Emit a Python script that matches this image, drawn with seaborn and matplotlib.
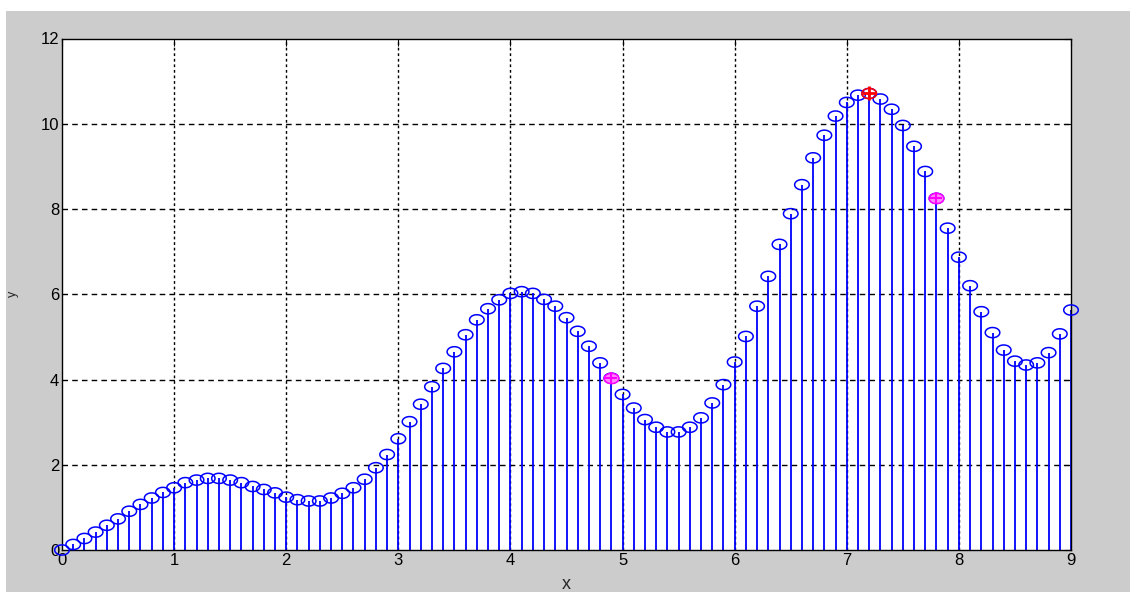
import numpy as np
import seaborn as sns
from matplotlib import pyplot as plt
from matplotlib.path import Path
from matplotlib.patches import Rectangle

# sample points x = 0:0.1:9
x_vals = [round(0.1 * i, 1) for i in range(91)]
y_vals = [
    0.00, 0.13, 0.27, 0.42, 0.58, 0.73, 0.91, 1.07, 1.22, 1.35,
    1.46, 1.58, 1.64, 1.68, 1.68, 1.64, 1.58, 1.49, 1.42, 1.34,
    1.24, 1.18, 1.15, 1.15, 1.22, 1.33, 1.46, 1.66, 1.93, 2.24,
    2.61, 3.01, 3.42, 3.83, 4.26, 4.65, 5.05, 5.40, 5.66, 5.87,
    6.02, 6.06, 6.02, 5.88, 5.72, 5.45, 5.13, 4.78, 4.39, 4.03,
    3.65, 3.33, 3.06, 2.88, 2.77, 2.77, 2.88, 3.10, 3.45, 3.88,
    4.41, 5.01, 5.72, 6.42, 7.17, 7.89, 8.57, 9.20, 9.73, 10.18,
    10.50, 10.67, 10.71, 10.58, 10.34, 9.96, 9.47, 8.88, 8.25, 7.55,
    6.87, 6.20, 5.59, 5.10, 4.69, 4.43, 4.34, 4.39, 4.63, 5.07,
    5.63,
]
# highlighted points
magenta_x = [4.9, 7.8]
magenta_y = [4.03, 8.25]
red_x = [7.2]
red_y = [10.71]

x_ticks = list(range(0, 10))
y_ticks = list(range(0, 13, 2))

sns.set_style("white")
plt.rcParams["font.family"] = ["Liberation Sans", "DejaVu Sans"]

fig = plt.figure(figsize=(11.3, 5.92), dpi=100, facecolor="white")
# grey figure area, white strip on top and left like the screenshot
fig.patches.append(Rectangle((6 / 1130, 0), 1, 1 - 11 / 592,
                             transform=fig.transFigure, facecolor="#cccccc",
                             edgecolor="none", zorder=-10))
ax = fig.add_axes([62 / 1130, 1 - 550 / 592, (1071 - 62) / 1130, (550 - 38.5) / 592])
ax.set_facecolor("white")

# elliptical marker (the original looks horizontally stretched)
t = np.linspace(0, 2 * np.pi, 60)
ellipse = Path(np.column_stack([np.cos(t), 0.7 * np.sin(t)]), closed=True)

ax.vlines(x_vals, 0, y_vals, color="#0000ff", linewidth=1.3, zorder=2)
sns.scatterplot(x=x_vals, y=y_vals, marker=ellipse, s=110, ax=ax,
                facecolor="none", edgecolor="#0000ff", linewidth=1.1,
                zorder=3, clip_on=False)
ax.collections[-1].set_facecolor("none")

sns.scatterplot(x=magenta_x, y=magenta_y, marker=ellipse, s=110, ax=ax,
                facecolor="#ff88ff", edgecolor="#ff00ff", linewidth=1.1, zorder=4)
sns.scatterplot(x=magenta_x, y=magenta_y, marker="+", s=80, ax=ax,
                color="#ff00ff", linewidth=1.5, zorder=5)
sns.scatterplot(x=red_x, y=red_y, marker=ellipse, s=110, ax=ax,
                facecolor="none", edgecolor="#ff0000", linewidth=1.1, zorder=4)
sns.scatterplot(x=red_x, y=red_y, marker="+", s=100, ax=ax,
                color="#ff0000", linewidth=2, zorder=5)

ax.set_xlim(0, 9)
ax.set_ylim(0, 12)
ax.set_xticks(x_ticks)
ax.set_yticks(y_ticks)
ax.tick_params(direction="in", length=5, width=0.8, labelsize=12, pad=2,
               top=True, right=True, colors="black")
for s in ax.spines.values():
    s.set_visible(True)
    s.set_color("black")
    s.set_linewidth(1)

for xv in x_ticks[1:-1]:
    ax.axvline(xv, color="black", linestyle=(0, (2, 2)), linewidth=1, zorder=1)
for yv in y_ticks[1:-1]:
    ax.axhline(yv, color="black", linestyle=(0, (4, 3)), linewidth=1, zorder=1)

ax.set_xlabel("x", fontsize=13, labelpad=6)
ax.set_ylabel("y", fontsize=9)
ax.yaxis.set_label_coords(-0.043, 0.5)

plt.savefig("out.png", dpi=100, facecolor=fig.get_facecolor())
plt.close()
